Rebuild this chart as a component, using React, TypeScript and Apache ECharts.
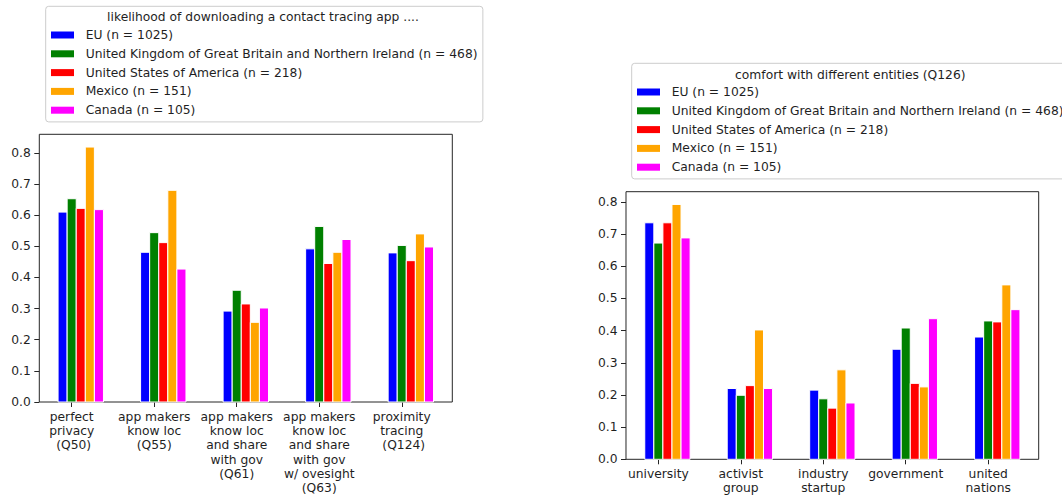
import React, { useEffect, useRef } from "react";
import * as echarts from "echarts";

// Survey groups (one bar per group in every cluster)
const COUNTRIES = [
  "EU (n = 1025)",
  "United Kingdom of Great Britain and Northern Ireland (n = 468)",
  "United States of America (n = 218)",
  "Mexico (n = 151)",
  "Canada (n = 105)",
];
const COLORS = ["#0000ff", "#008000", "#ff0000", "#ffa500", "#ff00ff"];

// Left panel: likelihood of downloading a contact tracing app
const APP_TITLE = "likelihood of downloading a contact tracing app ....";
const APP_CATEGORIES = [
  "perfect\nprivacy\n (Q50)",
  "app makers\nknow loc\n(Q55)",
  "app makers\nknow loc\nand share\nwith gov\n(Q61)",
  "app makers\nknow loc\nand share\nwith gov\nw/ ovesight\n(Q63)",
  "proximity\ntracing\n (Q124)",
];
const APP_EU = [0.61, 0.481, 0.292, 0.492, 0.479];
const APP_UK = [0.653, 0.544, 0.359, 0.564, 0.503];
const APP_US = [0.622, 0.512, 0.315, 0.445, 0.454];
const APP_MX = [0.819, 0.68, 0.256, 0.481, 0.54];
const APP_CA = [0.618, 0.427, 0.302, 0.522, 0.498];

// Right panel: comfort with different entities
const ENTITY_TITLE = "comfort with different entities (Q126)";
const ENTITY_CATEGORIES = ["university", "activist\ngroup", "industry\nstartup", "government", "united\nnations"];
const ENTITY_EU = [0.735, 0.22, 0.215, 0.342, 0.38];
const ENTITY_UK = [0.672, 0.199, 0.188, 0.408, 0.43];
const ENTITY_US = [0.735, 0.229, 0.159, 0.236, 0.427];
const ENTITY_MX = [0.792, 0.402, 0.278, 0.225, 0.542];
const ENTITY_CA = [0.688, 0.22, 0.175, 0.437, 0.465];

const Y_TICKS = [0, 0.1, 0.2, 0.3, 0.4, 0.5, 0.6, 0.7, 0.8];

const APP_VALUES = [APP_EU, APP_UK, APP_US, APP_MX, APP_CA];
const ENTITY_VALUES = [ENTITY_EU, ENTITY_UK, ENTITY_US, ENTITY_MX, ENTITY_CA];

const BAR_W = 0.11;
const FONT = "DejaVu Sans";
const FONT_SIZE = 12.3;
const TEXT = "#1f1f1f";
const FRAME = "#262626";

function xExtent(n: number) {
  const lo = -1.5 * BAR_W;
  const hi = n - 1 + 3.5 * BAR_W;
  const m = (hi - lo) * 0.05;
  return [lo - m, hi + m];
}

function barSeries(values: number[][], axisIndex: number) {
  return values.map((vals, s) => ({
    type: "custom",
    name: COUNTRIES[s],
    xAxisIndex: axisIndex,
    yAxisIndex: axisIndex,
    itemStyle: { color: COLORS[s] },
    encode: { x: 0, y: 1 },
    data: vals.map((v, i) => [i + (s - 1) * BAR_W, v]),
    renderItem: (params: any, api: any) => {
      const x = api.value(0);
      const y = api.value(1);
      const p0 = api.coord([x - BAR_W / 2, y]);
      const p1 = api.coord([x + BAR_W / 2, 0]);
      return {
        type: "rect",
        shape: { x: p0[0], y: p0[1], width: p1[0] - p0[0], height: p1[1] - p0[1] },
        style: { fill: api.visual("color"), stroke: "#ffffff", lineWidth: 1 },
      };
    },
  }));
}

function xAxis(categories: string[], gridIndex: number) {
  const [min, max] = xExtent(categories.length);
  const ticks = categories.map((_, i) => i);
  return {
    type: "value",
    gridIndex,
    min,
    max,
    splitLine: { show: false },
    axisLine: { show: false, onZero: false },
    axisTick: { show: true, length: 5, customValues: ticks, lineStyle: { color: FRAME } },
    axisLabel: {
      customValues: ticks,
      formatter: (v: number) => categories[Math.round(v)],
      fontFamily: FONT,
      fontSize: FONT_SIZE,
      color: TEXT,
      lineHeight: 14.3,
      margin: 7.5,
      verticalAlign: "top",
    },
  };
}

function yAxis(values: number[][], gridIndex: number) {
  const top = Math.max(...values.map((v) => Math.max(...v))) * 1.05;
  return {
    type: "value",
    gridIndex,
    min: 0,
    max: top,
    splitLine: { show: false },
    axisLine: { show: false, onZero: false },
    axisTick: { show: true, length: 5, customValues: Y_TICKS, lineStyle: { color: FRAME } },
    axisLabel: {
      customValues: Y_TICKS,
      formatter: (v: number) => v.toFixed(1),
      fontFamily: FONT,
      fontSize: FONT_SIZE,
      color: TEXT,
      margin: 8.5,
    },
  };
}

function legend(left: number, top: number) {
  return {
    orient: "vertical",
    left,
    top,
    icon: "rect",
    itemWidth: 23,
    itemHeight: 7,
    itemGap: 4.8,
    selectedMode: false,
    padding: [21.7, 5.3, 4.7, 5.3],
    backgroundColor: "rgba(255,255,255,0.8)",
    borderColor: "#cccccc",
    borderWidth: 1,
    borderRadius: 3,
    textStyle: { fontFamily: FONT, fontSize: FONT_SIZE, color: TEXT, lineHeight: 14, padding: [0, 0, 0, 6.7] },
    data: COUNTRIES,
  };
}

export default function App() {
  const ref = useRef<HTMLDivElement>(null);

  useEffect(() => {
    if (!ref.current) return;
    const chart = echarts.init(ref.current, undefined, { renderer: "svg" });
    chart.setOption({
      animation: false,
      backgroundColor: "#ffffff",
      grid: [
        { left: 39.3, top: 134.3, width: 413, height: 267.7, show: true, borderColor: FRAME, borderWidth: 1, containLabel: false },
        { left: 626, top: 191.7, width: 412.7, height: 267.6, show: true, borderColor: FRAME, borderWidth: 1, containLabel: false },
      ],
      xAxis: [xAxis(APP_CATEGORIES, 0), xAxis(ENTITY_CATEGORIES, 1)],
      yAxis: [yAxis(APP_VALUES, 0), yAxis(ENTITY_VALUES, 1)],
      legend: [legend(45.7, 6.3), legend(631.7, 63.3)],
      graphic: [
        {
          type: "text",
          z: 100,
          x: 263,
          y: 17.3,
          style: { text: APP_TITLE, fontFamily: FONT, fontSize: FONT_SIZE, fill: TEXT, align: "center", verticalAlign: "middle" },
        },
        {
          type: "text",
          z: 100,
          x: 850.3,
          y: 75,
          style: { text: ENTITY_TITLE, fontFamily: FONT, fontSize: FONT_SIZE, fill: TEXT, align: "center", verticalAlign: "middle" },
        },
      ],
      series: [...barSeries(APP_VALUES, 0), ...barSeries(ENTITY_VALUES, 1)],
    });
    return () => chart.dispose();
  }, []);

  return (
    <div
      ref={ref}
      style={{ position: "fixed", left: 0, top: 0, width: 1062, height: 497, background: "#fff" }}
    />
  );
}
